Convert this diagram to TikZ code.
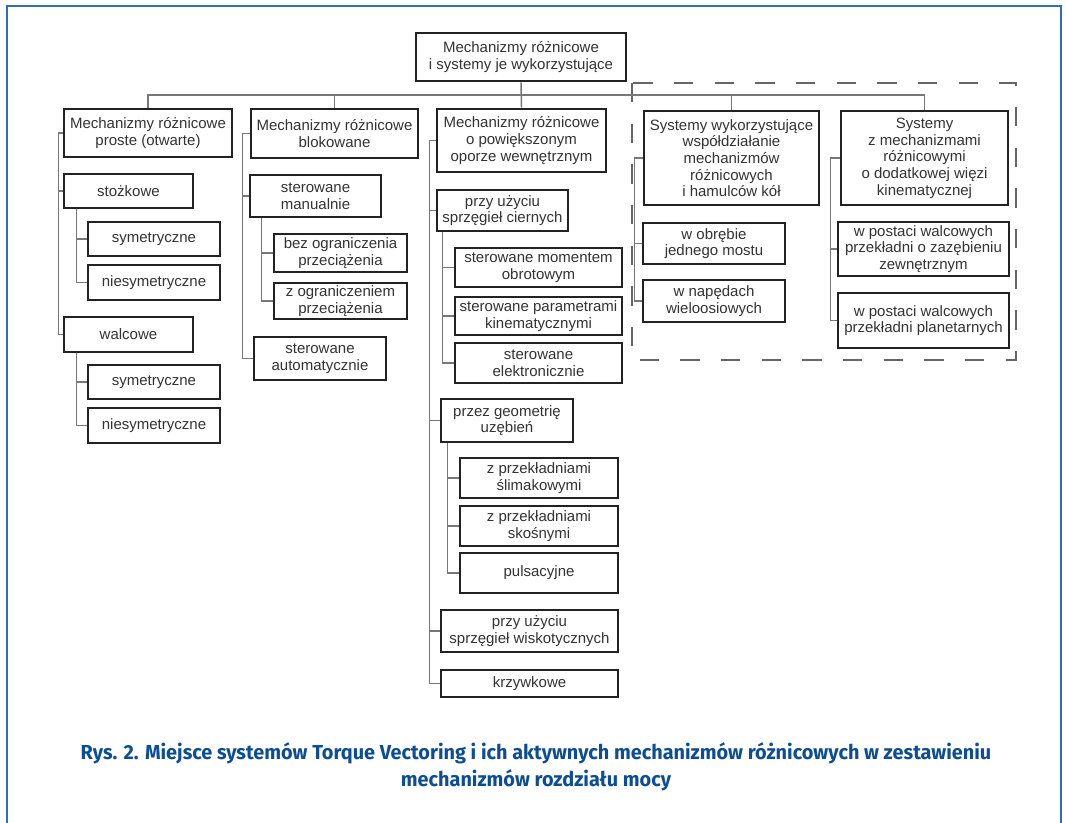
\documentclass[tikz,border=0pt]{standalone}
\usepackage{fontspec}
\setmainfont{Liberation Sans}
\newfontfamily\capfont{Fira Sans}[FakeStretch=0.98]
\definecolor{boxline}{HTML}{222222}
\definecolor{boxtext}{HTML}{333333}
\definecolor{connline}{HTML}{777777}
\definecolor{dashline}{HTML}{666666}
\definecolor{frameblue}{HTML}{2F6FB3}
\definecolor{capblue}{HTML}{0D4D94}
\tikzset{
  box/.style={draw=boxline, line width=2.2pt, fill=white, inner sep=0pt, align=center,
    text=boxtext, font=\fontsize{11.25pt}{12.5pt}\selectfont},
  conn/.style={draw=connline, line width=1.4pt},
  busline/.style={draw=connline, line width=1.1pt},
  groupbox/.style={draw=dashline, line width=1.8pt, dash pattern=on 14.5pt off 16pt},
  capstyle/.style={text=capblue, anchor=base, inner sep=0pt,
    font=\capfont\bfseries\fontsize{15.2pt}{18pt}\selectfont}
}
\newcommand\bx[6]{%
  \pgfmathsetmacro\bxcx{(#2+#4)/2}%
  \pgfmathsetmacro\bxcy{(#3+#5)/2}%
  \pgfmathsetmacro\bxw{(#4-#2)*0.75}%
  \pgfmathsetmacro\bxh{(#5-#3)*0.75}%
  \node[box, minimum width=\bxw pt, minimum height=\bxh pt] (#1) at (\bxcx,\bxcy) {#6};}
\begin{document}
\begin{tikzpicture}[x=0.75pt,y=-0.75pt]
\useasboundingbox (0,0) rectangle (1066,823);
% frame
\draw[frameblue, line width=1.5pt] (7,823) -- (7,6) -- (1061,6) -- (1061,823);
% dashed group
\draw[groupbox] (632,83) rectangle (1016,360);
\coordinate (bus) at (0,95);

% boxes
\bx{top}{416}{33}{626}{81}{Mechanizmy różnicowe\\i systemy je wykorzystujące}
\bx{h1}{64}{109}{232}{157}{Mechanizmy różnicowe\\proste (otwarte)}
\bx{h2}{251}{109}{418}{158}{Mechanizmy różnicowe\\blokowane}
\bx{h3}{437}{109}{606}{172}{Mechanizmy różnicowe\\o powiększonym\\oporze wewnętrznym}
\bx{h4}{644}{111}{819}{205}{Systemy wykorzystujące\\współdziałanie\\mechanizmów\\różnicowych\\i hamulców kół}
\bx{h5}{841}{111}{1008}{205}{Systemy\\z mechanizmami\\różnicowymi\\o dodatkowej więzi\\kinematycznej}

\bx{stoz}{64}{174}{193}{208}{stożkowe}
\bx{sym1}{88}{222}{220}{256}{symetryczne}
\bx{nsym1}{88}{265}{220}{300}{niesymetryczne}
\bx{walc}{64}{317}{193}{352}{walcowe}
\bx{sym2}{88}{365}{220}{399}{symetryczne}
\bx{nsym2}{88}{408}{220}{443}{niesymetryczne}

\bx{sm}{250}{175}{381}{217}{sterowane\\manualnie}
\bx{bo}{274}{234}{407}{272}{bez ograniczenia\\przeciążenia}
\bx{zo}{274}{283}{407}{319}{z ograniczeniem\\przeciążenia}
\bx{sa}{254}{337}{386}{380}{sterowane\\automatycznie}

\bx{psc}{437}{190}{568}{231}{przy użyciu\\sprzęgieł ciernych}
\bx{smo}{455}{248}{622}{287}{sterowane momentem\\obrotowym}
\bx{spk}{455}{297}{622}{335}{sterowane parametrami\\kinematycznymi}
\bx{se}{455}{343}{622}{383}{sterowane\\elektronicznie}
\bx{pg}{441}{399}{573}{442}{przez geometrię\\uzębień}
\bx{zs}{460}{458}{618}{498}{z przekładniami\\ślimakowymi}
\bx{zk}{460}{506}{618}{546}{z przekładniami\\skośnymi}
\bx{pu}{460}{553}{618}{593}{pulsacyjne}
\bx{pw}{441}{610}{618}{652}{przy użyciu\\sprzęgieł wiskotycznych}
\bx{kr}{441}{670}{618}{697}{krzywkowe}

\bx{wo}{643}{223}{785}{264}{w obrębie\\jednego mostu}
\bx{wn}{643}{280}{785}{322}{w napędach\\wieloosiowych}
\bx{wz}{838}{222}{1009}{276}{w postaci walcowych\\przekładni o zazębieniu\\zewnętrznym}
\bx{wp}{838}{293}{1009}{348}{w postaci walcowych\\przekładni planetarnych}

% top level connectors
\draw[busline] (h1.north) -- (h1.north |- bus) -- (h5.north |- bus) -- (h5.north);
\draw[busline] (h2.north) -- (h2.north |- bus);
\draw[busline] (h4.north) -- (h4.north |- bus);
\draw[busline] (top.south) -- (h3.north);

% column 1
\draw[conn] (h1.west) -- ++(-4,0) |- (walc.west);
\draw[conn] (stoz.west) -- ++(-4,0);
\draw[conn] (stoz.south west) ++(14,0) |- (nsym1.west);
\draw[conn] (sym1.west) -- ++(-10,0);
\draw[conn] (walc.south west) ++(14,0) |- (nsym2.west);
\draw[conn] (sym2.west) -- ++(-10,0);

% column 2
\draw[conn] (h2.west) -- ++(-7,0) |- (sa.west);
\draw[conn] (sm.west) -- ++(-6,0);
\draw[conn] (sm.south west) ++(13,0) |- (zo.west);
\draw[conn] (bo.west) -- ++(-11,0);

% column 3
\draw[conn] (h3.west) -- ++(-6,0) |- (kr.west);
\draw[conn] (psc.west) -- ++(-6,0);
\draw[conn] (pg.west) -- ++(-10,0);
\draw[conn] (pw.west) -- ++(-10,0);
\draw[conn] (psc.south west) ++(7,0) |- (se.west);
\draw[conn] (smo.west) -- ++(-11,0);
\draw[conn] (spk.west) -- ++(-11,0);
\draw[conn] (pg.south west) ++(8,0) |- (pu.west);
\draw[conn] (zs.west) -- ++(-11,0);
\draw[conn] (zk.west) -- ++(-11,0);

% column 4
\draw[conn] (h4.west) -- ++(-8,0) |- (wn.west);
\draw[conn] (wo.west) -- ++(-7,0);

% column 5
\draw[conn] (h5.west) -- ++(-9,0) |- (wp.west);
\draw[conn] (wz.west) -- ++(-6,0);

% caption
\node[capstyle] (cap1) at (536,759) {Rys. 2. Miejsce systemów Torque Vectoring i ich aktywnych mechanizmów różnicowych w zestawieniu};
\node[capstyle] (cap2) at (536,786) {mechanizmów rozdziału mocy};
\end{tikzpicture}
\end{document}
